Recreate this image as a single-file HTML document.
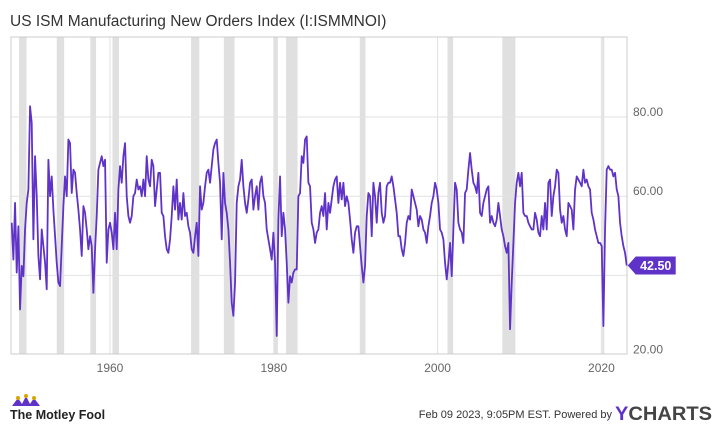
<!DOCTYPE html>
<html><head><meta charset="utf-8"><style>
body{margin:0;background:#fff;width:720px;height:425px;overflow:hidden;font-family:"Liberation Sans",sans-serif}
</style></head><body>
<svg width="720" height="425" xmlns="http://www.w3.org/2000/svg">
<text x="10" y="26" font-size="15.5" fill="#333">US ISM Manufacturing New Orders Index (I:ISMMNOI)</text>
<g id="bands"></g>
<g id="grid"></g>
<rect x="11" y="37" width="616" height="317" fill="none" stroke="#ccc" stroke-width="1"/>
<g id="axes"></g>
<path id="line" fill="none" stroke="#5f33c8" stroke-width="1.8" stroke-linejoin="round"/>
<g>
<path id="badge" fill="#5f33c8"/>
<text id="badgeText" font-size="12.5" font-weight="bold" fill="#fff" text-anchor="middle"></text>
</g>
<g>
<path d="M12 406 L18 398 L22 404 L26 396 L30 404 L34 398 L40 406 Z" fill="#5f33c8"/>
<circle cx="18" cy="398" r="2" fill="#d9a600"/><circle cx="26" cy="396" r="2" fill="#d9a600"/><circle cx="34" cy="398" r="2" fill="#d9a600"/>
<text x="10" y="419" font-size="12.5" font-weight="bold" fill="#222">The Motley Fool</text>
</g>
<text x="612" y="418" font-size="11" fill="#333" text-anchor="end">Feb 09 2023, 9:05PM EST.  Powered by</text>
<text x="615" y="420" font-size="19" font-weight="bold" fill="#444" textLength="97" lengthAdjust="spacingAndGlyphs"><tspan fill="#5f33c8">Y</tspan>CHARTS</text>
</svg>
<script>
const startYear = 1948.0;
const stepYears = 0.2035;
const values = [
53.3,44.0,58.3,40.7,52.4,31.4,42.4,39.8,51.6,58.3,61.7,82.7,78.5,49.1,70.1,60.0,44.9,39.0,51.6,47.4,43.2,36.5,69.2,60.0,65.0,56.6,49.9,43.2,38.2,37.3,47.4,57.5,65.0,60.0,74.3,73.4,60.8,66.7,65.9,60.8,56.6,51.6,44.9,57.5,55.8,51.6,46.6,49.9,47.4,35.6,46.6,55.0,66.7,68.4,70.1,67.6,69.2,43.2,51.6,53.3,50.8,46.6,55.8,46.6,61.7,67.6,63.4,70.1,73.4,60.0,55.0,53.3,55.0,60.0,60.8,64.2,61.7,62.5,60.0,64.2,60.0,70.1,64.2,62.5,69.2,67.6,57.5,61.7,65.9,65.9,55.8,55.0,49.9,46.6,45.7,49.1,55.0,62.5,56.6,64.2,54.1,58.3,54.1,60.8,55.0,55.8,52.4,50.8,46.6,45.7,49.9,53.3,44.9,
62.5,56.6,58.3,62.5,65.9,66.7,63.4,67.6,71.8,73.4,74.3,68.4,63.4,49.1,65.9,58.3,55.8,51.6,43.2,33.1,29.8,38.2,58.3,62.5,64.2,69.2,62.5,58.3,55.8,59.2,63.4,64.2,56.6,60.0,62.5,56.6,63.4,65.0,60.0,58.3,51.6,49.1,46.6,44.0,50.8,43.2,24.7,54.1,65.0,49.9,55.8,51.6,43.2,33.1,39.8,38.2,40.7,41.5,41.5,60.0,60.8,70.1,68.4,74.3,75.1,63.4,62.5,53.3,51.6,48.2,50.8,51.6,55.8,57.5,55.0,60.8,51.6,58.3,55.8,59.2,62.5,64.2,65.0,58.3,63.4,59.2,63.4,57.5,60.0,58.3,54.1,49.1,45.7,50.8,52.4,52.4,47.4,42.4,38.2,42.4,55.0,60.8,60.0,49.9,63.4,60.0,53.3,60.8,63.4,55.8,53.3,55.0,62.5,63.4,63.4,65.0,62.5,59.2,55.8,49.9,
49.9,46.6,44.9,48.2,53.3,55.0,54.1,61.7,60.0,58.3,56.6,52.4,55.0,54.1,51.6,50.8,48.2,52.4,55.0,58.3,60.0,63.4,61.7,58.3,51.6,50.8,49.1,43.2,39.0,43.2,48.2,39.8,51.6,63.4,61.7,53.3,51.6,50.8,48.2,60.8,61.7,66.7,70.9,66.7,63.4,62.5,60.8,65.9,55.8,55.0,58.3,60.0,61.7,62.5,53.3,55.0,53.3,52.4,54.1,58.3,55.0,51.6,49.9,47.4,45.7,48.2,26.4,38.2,48.2,58.3,63.4,65.9,62.5,65.9,55.8,55.0,55.0,53.3,52.4,51.6,51.6,55.8,54.1,50.8,49.9,55.0,51.6,58.3,51.6,63.4,64.2,55.0,60.0,62.5,66.7,65.9,56.6,53.3,55.0,51.6,49.9,58.3,57.5,56.6,51.6,61.7,65.0,64.2,63.4,62.5,66.7,63.4,64.2,62.5,61.7,55.8,54.1,51.6,49.9,48.2,48.2,47.4,27.2,51.6,66.7,67.6,66.7,66.7,65.0,65.9,61.7,60.0,53.3,49.9,47.4,45.7,42.5
];
const recessionStarts = [1948.9,1953.5,1957.6,1960.3,1969.9,1973.9,1980.0,1981.5,1990.5,2001.2,2007.9,2020.1];
const recessionEnds   = [1949.8,1954.4,1958.3,1961.1,1970.9,1975.2,1980.5,1982.9,1991.2,2001.9,2009.5,2020.3];
const yTicks = [20,40,60,80];
const yTickLabels = ["20.00","40.00","60.00","80.00"];
const xTicks = [1960,1980,2000,2020];
const lastLabel = "42.50";

const NS="http://www.w3.org/2000/svg";
function xs(y){return 110+(y-1960)*8.19;}
function ys(v){return 117+(80-v)*3.96;}
function mk(t,a,p){const e=document.createElementNS(NS,t);for(const k in a)e.setAttribute(k,a[k]);p.appendChild(e);return e;}
const bands=document.getElementById('bands');
for(let i=0;i<recessionStarts.length;i++){
  const r=mk('rect',{x:xs(recessionStarts[i]),y:37,width:Math.max(2,xs(recessionEnds[i])-xs(recessionStarts[i])),height:317,fill:'#e0e0e0'},bands);
  
  
}
const grid=document.getElementById('grid'),axes=document.getElementById('axes');
yTicks.forEach((t,i)=>{
  if(t>20){const l=mk('line',{x1:11,x2:627,y1:ys(t),y2:ys(t),stroke:'#e2e2e2'},grid);
  
  }
  if(t!==40){const tx=mk('text',{x:633,y:ys(t)-1,'font-size':12,fill:'#666'},axes);tx.textContent=yTickLabels[i];
  
  }
});
xTicks.forEach(t=>{
  const l=mk('line',{x1:xs(t),x2:xs(t),y1:37,y2:354,stroke:'#e2e2e2'},grid);
  
  
  const tx=mk('text',{x:xs(t),y:372,'font-size':12,fill:'#666','text-anchor':'middle'},axes);tx.textContent=t;
  
  
});
let d='';
values.forEach((v,i)=>{d+=(i?'L':'M')+xs(startYear+i*stepYears).toFixed(2)+' '+ys(v).toFixed(2);});
document.getElementById('line').setAttribute('d',d);
const ly=ys(values[values.length-1]);const lx=xs(startYear+(values.length-1)*stepYears)+1;
document.getElementById('badge').setAttribute('d',`M${lx} ${ly} L${lx+8} ${ly-9} L${lx+48} ${ly-9} L${lx+48} ${ly+9} L${lx+8} ${ly+9} Z`);
const bt=document.getElementById('badgeText');bt.setAttribute('x',lx+28);bt.setAttribute('y',ly+4.5);bt.textContent=lastLabel;
</script>
</body></html>
